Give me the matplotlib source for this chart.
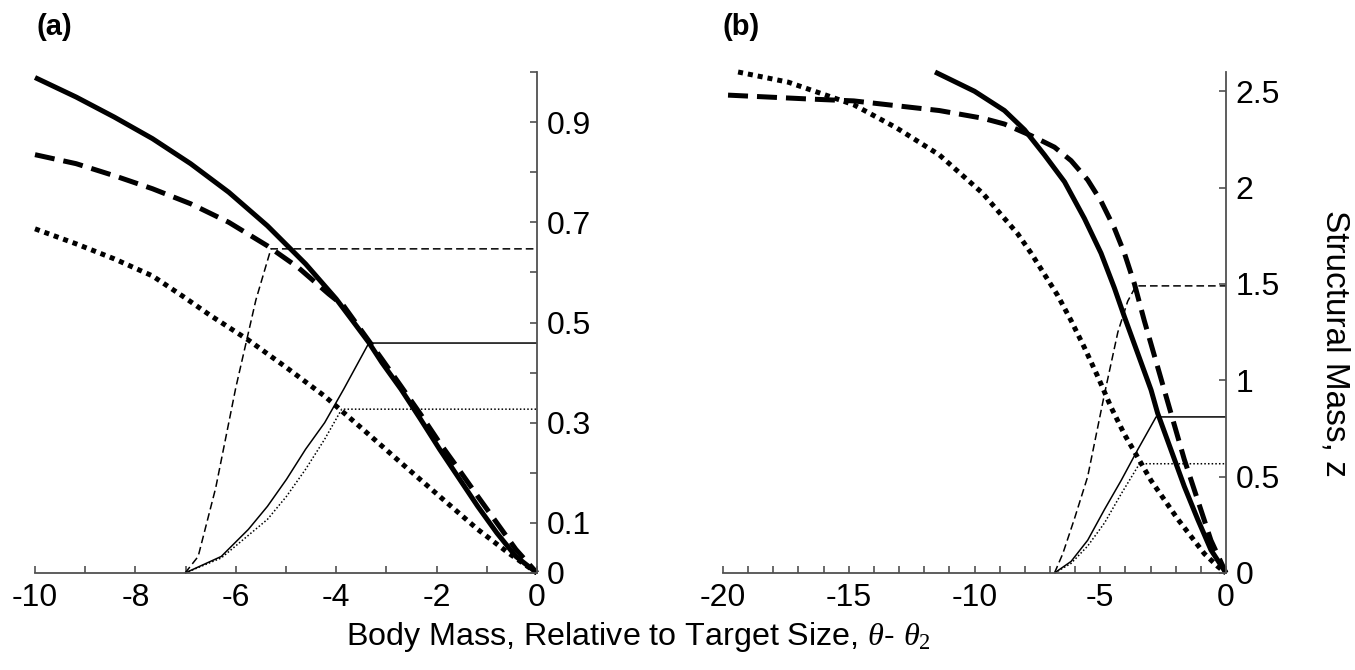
import matplotlib
matplotlib.use("Agg")
import matplotlib.pyplot as plt
import numpy as np

plt.rcParams['font.family'] = ['Liberation Sans', 'DejaVu Sans']
plt.rcParams['mathtext.fontset'] = 'custom'
plt.rcParams['mathtext.rm'] = 'Liberation Serif'
plt.rcParams['mathtext.it'] = 'Liberation Serif:italic'

# ---------------- Panel (a) data ----------------
a_solid_x = [-10, -9.18, -8.42, -7.66, -6.9, -6.14, -5.37, -4.61, -4.0, -3.7, -3.35, -3.09,
             -2.71, -2.32, -1.94, -1.56, -1.18, -0.8, -0.42, 0]
a_solid_y = [0.989, 0.95, 0.91, 0.867, 0.817, 0.76, 0.693, 0.617, 0.547, 0.507, 0.46, 0.42,
             0.367, 0.307, 0.247, 0.19, 0.133, 0.08, 0.033, 0]

a_dash_x = [-10, -9.18, -8.42, -7.66, -6.9, -6.14, -5.37, -4.76, -4.15, -3.85, -3.47, -3.09,
            -2.71, -2.32, -1.94, -1.56, -1.18, -0.8, -0.42, 0]
a_dash_y = [0.835, 0.817, 0.793, 0.767, 0.737, 0.70, 0.653, 0.61, 0.557, 0.533, 0.48, 0.427,
            0.373, 0.317, 0.26, 0.207, 0.153, 0.10, 0.047, 0]

a_dot_x = [-10, -9.18, -8.42, -7.66, -7.05, -6.52, -5.75, -4.99, -4.23, -3.47, -2.71, -1.94,
           -1.18, -0.57, 0]
a_dot_y = [0.687, 0.657, 0.627, 0.593, 0.552, 0.515, 0.465, 0.41, 0.353, 0.287, 0.22, 0.153,
           0.087, 0.04, 0]

a_thin_dash_x = [-7.01, -6.75, -6.4, -6.0, -5.6, -5.3, 0]
a_thin_dash_y = [0.0, 0.033, 0.17, 0.37, 0.545, 0.647, 0.647]

a_thin_solid_x = [-7.01, -6.29, -5.75, -5.37, -4.99, -4.61, -4.23, -3.85, -3.35, 0]
a_thin_solid_y = [0.0, 0.033, 0.087, 0.133, 0.187, 0.247, 0.30, 0.367, 0.459, 0.459]

a_thin_dot_x = [-7.01, -6.29, -5.37, -4.99, -4.61, -4.23, -3.89, 0]
a_thin_dot_y = [0.0, 0.03, 0.107, 0.153, 0.207, 0.267, 0.327, 0.327]

a_xticks = list(range(-10, 1))
a_xlabels = ['-10', '', '-8', '', '-6', '', '-4', '', '-2', '', '0']
a_yticks = [0, 0.1, 0.2, 0.3, 0.4, 0.5, 0.6, 0.7, 0.8, 0.9, 1.0]
a_ylabels = ['0', '0.1', '', '0.3', '', '0.5', '', '0.7', '', '0.9', '']

# ---------------- Panel (b) data ----------------
b_solid_x = [-11.57, -10.0, -8.81, -8.01, -7.22, -6.42, -5.63, -4.97, -4.44, -4.04, -3.51,
             -2.98, -2.72, -2.19, -1.66, -1.13, -0.6, 0]
b_solid_y = [2.6, 2.50, 2.40, 2.30, 2.17, 2.03, 1.84, 1.66, 1.48, 1.33, 1.14,
             0.95, 0.83, 0.64, 0.45, 0.28, 0.12, 0]

b_dash_x = [-19.8, -16.6, -14.8, -11.4, -9.67, -8.81, -7.75, -6.82, -6.16, -5.5, -4.97, -4.44,
            -4.04, -3.64, -3.25, -2.72, -2.19, -1.66, -1.13, -0.6, 0]
b_dash_y = [2.48, 2.46, 2.45, 2.40, 2.36, 2.33, 2.27, 2.21, 2.14, 2.04, 1.93, 1.79,
            1.66, 1.50, 1.31, 1.07, 0.83, 0.59, 0.38, 0.17, 0]

b_dot_x = [-19.4, -17.4, -14.8, -13.1, -11.4, -9.67, -8.81, -8.28, -7.75, -7.22, -6.69, -6.16,
           -5.63, -5.1, -4.57, -4.04, -3.51, -2.98, -2.45, -1.92, -1.39, -0.86, -0.33, 0]
b_dot_y = [2.6, 2.547, 2.43, 2.31, 2.17, 1.97, 1.84, 1.76, 1.66, 1.55, 1.44, 1.31,
           1.17, 1.02, 0.86, 0.72, 0.60, 0.48, 0.38, 0.28, 0.19, 0.10, 0.034, 0]

b_thin_dash_x = [-6.82, -6.49, -6.03, -5.5, -4.83, -4.3, -3.91, -3.58, 0]
b_thin_dash_y = [0.0, 0.10, 0.28, 0.50, 0.93, 1.25, 1.41, 1.49, 1.49]

b_thin_solid_x = [-6.82, -6.16, -5.5, -4.83, -4.17, -3.51, -2.78, 0]
b_thin_solid_y = [0.0, 0.06, 0.17, 0.33, 0.48, 0.64, 0.81, 0.81]

b_thin_dot_x = [-6.82, -6.16, -5.5, -4.83, -4.17, -3.44, 0]
b_thin_dot_y = [0.0, 0.05, 0.14, 0.26, 0.41, 0.567, 0.567]

b_xticks = list(range(-20, 1))
b_xlabels = [str(t) if t % 5 == 0 else '' for t in b_xticks]
b_yticks = [0, 0.5, 1, 1.5, 2, 2.5]
b_ylabels = ['0', '0.5', '1', '1.5', '2', '2.5']

# ---------------- Figure ----------------
fig = plt.figure(figsize=(13.55, 6.7), dpi=100)
W, H = 1355, 670
axA = fig.add_axes([35 / W, (H - 573) / H, (537 - 35) / W, (573 - 72) / H])
axB = fig.add_axes([723 / W, (H - 573) / H, (1226 - 723) / W, (573 - 72) / H])

thick = 3.6
thin = 1.1
spine_col = '#505050'

def style(ax, xlim, ylim, xt, xl, yt, yl):
    ax.set_xlim(*xlim)
    ax.set_ylim(*ylim)
    for s in ['left', 'top']:
        ax.spines[s].set_visible(False)
    for s in ['right', 'bottom']:
        ax.spines[s].set_color(spine_col)
        ax.spines[s].set_linewidth(1.3)
    ax.yaxis.tick_right()
    ax.set_xticks(xt)
    ax.set_xticklabels(xl)
    ax.set_yticks(yt)
    ax.set_yticklabels(yl)
    ax.tick_params(direction='in', length=5, width=1.2, color=spine_col,
                   labelsize=23, labelcolor='black')
    ax.tick_params(axis='x', pad=7)
    ax.tick_params(axis='y', pad=7)
    ax.patch.set_alpha(0)

def draw(ax, sx, sy, dx, dy, ox, oy, tdx, tdy, tsx, tsy, tox, toy):
    kw = dict(color='black', clip_on=False, solid_capstyle='butt', dash_capstyle='butt',
              solid_joinstyle='round')
    ax.plot(tdx, tdy, lw=thin, linestyle=(0, (5, 2.6)), **kw)
    ax.plot(tsx, tsy, lw=thin, linestyle='-', **kw)
    ax.plot(tox, toy, lw=thin, linestyle=(0, (1, 1.4)), **kw)
    ax.plot(ox, oy, lw=thick, linestyle=(0, (1, 1)), **kw)
    ax.plot(dx, dy, lw=thick, linestyle=(0, (4, 1.8)), **kw)
    ax.plot(sx, sy, lw=thick, linestyle='-', **kw)

draw(axA, a_solid_x, a_solid_y, a_dash_x, a_dash_y, a_dot_x, a_dot_y,
     a_thin_dash_x, a_thin_dash_y, a_thin_solid_x, a_thin_solid_y, a_thin_dot_x, a_thin_dot_y)
style(axA, (-10, 0), (0, 1.0), a_xticks, a_xlabels, a_yticks, a_ylabels)

draw(axB, b_solid_x, b_solid_y, b_dash_x, b_dash_y, b_dot_x, b_dot_y,
     b_thin_dash_x, b_thin_dash_y, b_thin_solid_x, b_thin_solid_y, b_thin_dot_x, b_thin_dot_y)
style(axB, (-20, 0), (0, 2.6), b_xticks, b_xlabels, b_yticks, b_ylabels)

fig.text(36 / W, 1 - 27 / H, '(a)', fontsize=21, fontweight='bold', ha='left', va='center')
fig.text(723 / W, 1 - 27 / H, '(b)', fontsize=21, fontweight='bold', ha='left', va='center')

fig.text(638 / W, 1 - 637 / H, r'Body Mass, Relative to Target Size, $\theta$- $\theta_2$',
         fontsize=23.2, ha='center', va='center')
fig.text(1335 / W, 1 - 343 / H, 'Structural Mass, z', fontsize=24, rotation=270,
         ha='center', va='center')

fig.savefig('out.png', dpi=100)
